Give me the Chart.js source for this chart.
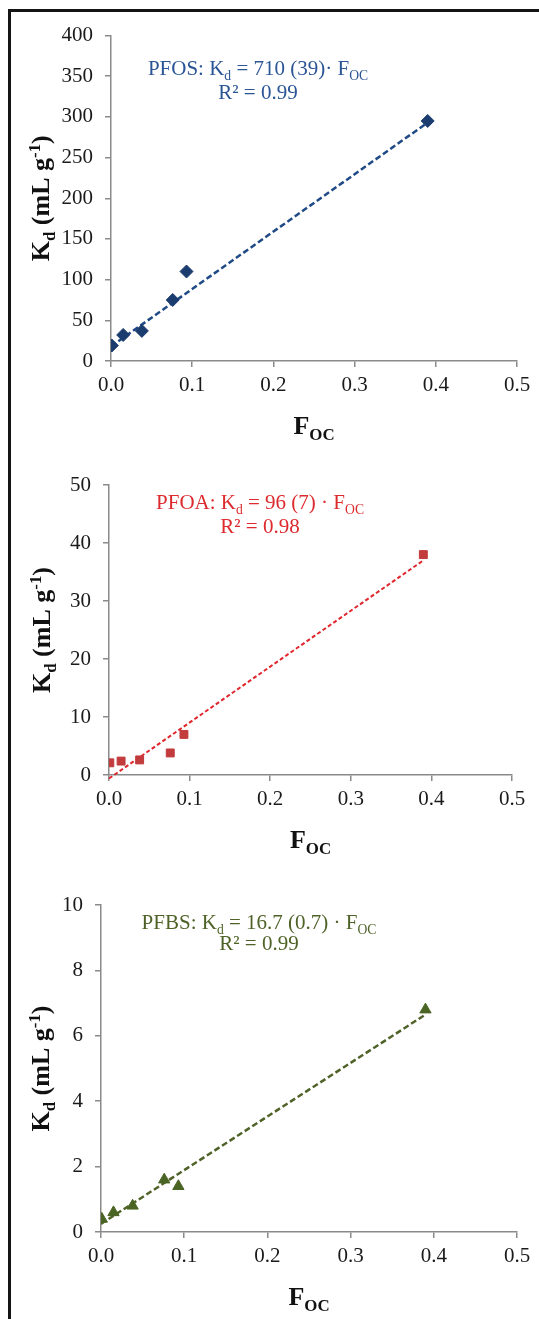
<!DOCTYPE html>
<html>
<head>
<meta charset="utf-8">
<script src="https://cdn.jsdelivr.net/npm/chart.js@4.4.1/dist/chart.umd.min.js"></script>
<style>
  html, body { margin: 0; padding: 0; background: #fff; }
  body { width: 539px; height: 1319px; position: relative; overflow: hidden; }
  .panel { position: absolute; left: 0; width: 539px; }
  .frame { position: absolute; left: 8px; top: 9px; width: 600px; height: 1400px;
           border-left: 3px solid #151515; border-top: 3px solid #151515; }
</style>
</head>
<body>
<div class="panel" style="top:0;height:445px"><canvas id="pfos"></canvas></div>
<div class="panel" style="top:445px;height:420px"><canvas id="pfoa"></canvas></div>
<div class="panel" style="top:865px;height:454px"><canvas id="pfbs"></canvas></div>
<div class="frame"></div>
<script>
// organic carbon fraction of the soils (same for all three compounds)
const foc = [0.001, 0.015, 0.038, 0.076, 0.093, 0.39];

const kdPFOS = [19, 32, 37, 75, 110, 295];
const kdPFOA = [2.1, 2.4, 2.6, 3.8, 7.0, 38];
const kdPFBS = [0.4, 0.6, 0.8, 1.6, 1.4, 6.8];

// end points of the dashed regression lines
const trendX = [0, 0.39];
const trendPFOS = [18, 293];
const trendPFOA = [-0.6, 37];
const trendPFBS = [0.25, 6.65];

const xTicks = [0, 0.1, 0.2, 0.3, 0.4, 0.5];

const serif = "'Liberation Serif', 'Times New Roman', serif";

// text with sub/superscripts: parts = [[text, mode]], mode 0 normal, 1 sub, 2 sup
function drawRich(ctx, parts, x, y, size, bold, color) {
  const weight = bold ? 'bold ' : '';
  let total = 0;
  const widths = parts.map(([t, m]) => {
    ctx.font = weight + (m ? size * 0.65 : size) + 'px ' + serif;
    const w = ctx.measureText(t).width;
    total += w;
    return w;
  });
  let cx = x - total / 2;
  ctx.fillStyle = color;
  ctx.textBaseline = 'alphabetic';
  ctx.textAlign = 'left';
  parts.forEach(([t, m], i) => {
    ctx.font = weight + (m ? size * 0.65 : size) + 'px ' + serif;
    const dy = m === 1 ? size * 0.24 : m === 2 ? -size * 0.36 : 0;
    ctx.fillText(t, cx, y + dy);
    cx += widths[i];
  });
}

const decor = {
  id: 'decor',
  afterDraw(chart, args, opts) {
    const ctx = chart.ctx;
    const a = chart.chartArea;
    ctx.save();
    // equation
    drawRich(ctx, opts.eq, opts.cx, opts.y1, 21, false, opts.color);
    drawRich(ctx, opts.r2, opts.cx, opts.y2, 21, false, opts.color);
    // x title
    drawRich(ctx, [['F', 0], ['OC', 1]], (a.left + a.right) / 2, a.bottom + 73, 26, true, '#111');
    // y title
    ctx.translate(opts.ytx, (a.top + a.bottom) / 2);
    ctx.rotate(-Math.PI / 2);
    drawRich(ctx, [['K', 0], ['d', 1], [' (mL g', 0], ['-1', 2], [')', 0]], 0, 9, 26, true, '#111');
    ctx.restore();
  }
};

function makeChart(id, kd, trend, opt) {
  const ctx = document.getElementById(id).getContext('2d');
  return new Chart(ctx, {
    type: 'scatter',
    data: {
      datasets: [
        {
          data: foc.map((x, i) => ({ x: x, y: kd[i] })),
          pointStyle: opt.marker,
          pointRadius: opt.radius,
          pointBackgroundColor: opt.markerColor,
          pointBorderColor: opt.markerColor,
          pointBorderWidth: 1,
          showLine: false
        },
        {
          data: trendX.map((x, i) => ({ x: x, y: trend[i] })),
          showLine: true,
          pointRadius: 0,
          borderColor: opt.lineColor,
          borderWidth: opt.lineWidth,
          borderDash: opt.dash,
          clip: { left: 0, top: 0, right: 0, bottom: 6 }
        }
      ]
    },
    options: {
      responsive: true,
      maintainAspectRatio: false,
      animation: false,
      layout: { padding: { left: 0, top: opt.top, right: opt.right, bottom: 0 } },
      plugins: {
        legend: { display: false },
        tooltip: { enabled: false },
        decor: opt.decor
      },
      scales: {
        x: {
          type: 'linear',
          min: 0,
          max: 0.5,
          afterFit(s) { s.height = opt.xh; },
          afterBuildTicks(s) { s.ticks = xTicks.map(v => ({ value: v })); },
          ticks: {
            padding: 6,
            color: '#1a1a1a',
            font: { family: serif, size: 21 },
            callback: v => v.toFixed(1)
          },
          grid: { drawOnChartArea: false, drawTicks: true, tickLength: 6, color: '#8a8a8a', lineWidth: 1.5 },
          border: { color: '#8a8a8a', width: 1.5 }
        },
        y: {
          min: 0,
          max: opt.ymax,
          afterFit(s) { s.width = opt.yw; },
          ticks: {
            stepSize: opt.step,
            padding: 12,
            color: '#1a1a1a',
            font: { family: serif, size: 21 }
          },
          grid: { drawOnChartArea: false, drawTicks: true, tickLength: 6, color: '#8a8a8a', lineWidth: 1.5 },
          border: { color: '#8a8a8a', width: 1.5 }
        }
      }
    },
    plugins: [decor]
  });
}

makeChart('pfos', kdPFOS, trendPFOS, {
  marker: 'rectRot', radius: 6.5, markerColor: '#1b3c6e',
  lineColor: '#1f4a86', lineWidth: 2.5, dash: [6, 3],
  ymax: 400, step: 50, yw: 111, xh: 84, top: 35.5, right: 22,
  decor: {
    eq: [['PFOS: K', 0], ['d', 1], [' = 710 (39)\u00b7 F', 0], ['OC', 1]],
    r2: [['R\u00b2 = 0.99', 0]],
    cx: 258, y1: 75, y2: 99, ytx: 40, color: '#2b5595'
  }
});

makeChart('pfoa', kdPFOA, trendPFOA, {
  marker: 'rect', radius: 5.6, markerColor: '#c23b3d',
  lineColor: '#e0262b', lineWidth: 2, dash: [4, 2.5],
  ymax: 50, step: 10, yw: 109, xh: 90, top: 40, right: 27,
  decor: {
    eq: [['PFOA: K', 0], ['d', 1], [' = 96 (7) \u00b7 F', 0], ['OC', 1]],
    r2: [['R\u00b2 = 0.98', 0]],
    cx: 260, y1: 64, y2: 88, ytx: 41, color: '#dc2a2e'
  }
});

makeChart('pfbs', kdPFBS, trendPFBS, {
  marker: 'triangle', radius: 6.5, markerColor: '#4a6423',
  lineColor: '#4f6228', lineWidth: 2.5, dash: [6, 3],
  ymax: 10, step: 2, yw: 101, xh: 87, top: 40, right: 22,
  decor: {
    eq: [['PFBS: K', 0], ['d', 1], [' = 16.7 (0.7) \u00b7 F', 0], ['OC', 1]],
    r2: [['R\u00b2 = 0.99', 0]],
    cx: 259, y1: 64, y2: 85, ytx: 40, color: '#4f6228'
  }
});
</script>
</body>
</html>
